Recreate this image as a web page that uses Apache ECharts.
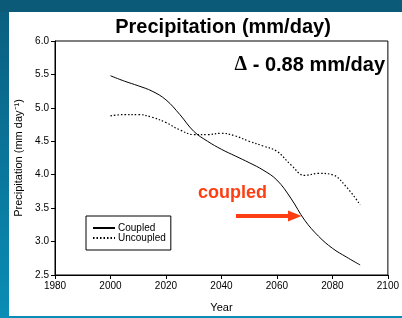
<!DOCTYPE html>
<html>
<head>
<meta charset="utf-8">
<script src="https://cdn.jsdelivr.net/npm/echarts@6/dist/echarts.min.js"></script>
<style>
  html, body { margin: 0; padding: 0; background: #0a5a78; }
  #chart { width: 402px; height: 318px; }
</style>
</head>
<body>
<div id="chart"></div>
<script>
// years of the model runs
const years = [2000, 2005, 2010, 2015, 2020, 2025, 2030, 2035, 2040, 2045, 2050, 2055, 2060, 2065, 2070, 2075, 2080, 2085, 2090];
// precipitation (mm/day)
const coupled = [5.48, 5.40, 5.33, 5.25, 5.12, 4.90, 4.65, 4.50, 4.38, 4.28, 4.18, 4.07, 3.92, 3.65, 3.32, 3.08, 2.90, 2.77, 2.65];
const uncoupled = [4.88, 4.90, 4.90, 4.86, 4.78, 4.67, 4.60, 4.60, 4.62, 4.58, 4.50, 4.43, 4.35, 4.15, 3.99, 4.02, 4.00, 3.82, 3.55];
const seriesNames = ['Coupled', 'Uncoupled'];

const toPairs = (vals) => years.map((y, i) => [y, vals[i]]);

const chart = echarts.init(document.getElementById('chart'));

const option = {
  backgroundColor: '#0a5a78',
  animation: false,
  textStyle: { fontFamily: 'Liberation Sans, Arial, sans-serif' },
  title: {
    text: 'Precipitation (mm/day)',
    left: 218,
    textAlign: 'center',
    top: 12,
    textStyle: { fontSize: 20, fontWeight: 'bold', color: '#000' }
  },
  graphic: [
    // white slide card
    { type: 'rect', z: -10, shape: { x: 9, y: 12, width: 393, height: 304 }, style: { fill: '#fff' } },
    // left strip gradient
    {
      type: 'rect', z: -10, shape: { x: 0, y: 12, width: 9, height: 306 },
      style: {
        fill: new echarts.graphic.LinearGradient(0, 0, 0, 1, [
          { offset: 0, color: '#0a5f80' },
          { offset: 1, color: '#0a8db6' }
        ])
      }
    },
    { type: 'rect', z: -10, shape: { x: 9, y: 316, width: 393, height: 2 }, style: { fill: '#0a8db6' } },
    // delta annotation
    {
      type: 'text', right: 17, top: 55,
      style: {
        text: '{d|Δ} - 0.88 mm/day',
        rich: {
          d: { fontFamily: 'Liberation Serif', fontWeight: 'bold', fontSize: 20, fill: '#000' }
        },
        font: 'bold 20px Liberation Sans',
        fill: '#000'
      }
    },
    // coupled label and arrow
    {
      type: 'text', left: 198, top: 184,
      style: { text: 'coupled', font: 'bold 18px Liberation Sans', fill: '#ff3d12' }
    },
    {
      type: 'polygon',
      shape: { points: [[236, 214], [288, 214], [288, 210.5], [301.5, 216], [288, 221.5], [288, 218], [236, 218]] },
      style: { fill: '#ff3d12' }
    }
  ],
  legend: {
    data: seriesNames,
    orient: 'vertical',
    left: 86,
    top: 216,
    padding: [7, 5, 7, 6],
    itemGap: 0,
    itemWidth: 22,
    itemHeight: 11,
    borderColor: '#000',
    borderWidth: 1,
    itemStyle: { opacity: 0 },
    textStyle: { fontSize: 10, color: '#000', padding: [0, 0, 0, -2] }
  },
  grid: {
    left: 55,
    right: 12,
    top: 41,
    bottom: 42,
    show: true,
    borderColor: '#000',
    borderWidth: 1
  },
  xAxis: {
    type: 'value',
    min: 1980,
    max: 2100,
    interval: 20,
    name: 'Year',
    nameLocation: 'middle',
    nameGap: 27,
    nameTextStyle: { fontSize: 11, color: '#000' },
    splitLine: { show: false },
    axisLine: { lineStyle: { color: '#000' } },
    axisTick: { length: 4, lineStyle: { color: '#000' } },
    axisLabel: { fontSize: 10, color: '#000', margin: 6, formatter: (v) => String(v) }
  },
  yAxis: {
    type: 'value',
    min: 2.5,
    max: 6.0,
    interval: 0.5,
    name: 'Precipitation (mm day⁻¹)',
    nameLocation: 'middle',
    nameGap: 29,
    nameTextStyle: { fontSize: 11, color: '#000' },
    splitLine: { show: false },
    axisLine: { show: true, lineStyle: { color: '#000' } },
    axisTick: { show: true, length: 4, lineStyle: { color: '#000' } },
    axisLabel: { fontSize: 10, color: '#000', margin: 6, formatter: (v) => v.toFixed(1) }
  },
  series: [
    {
      name: seriesNames[0],
      type: 'line',
      smooth: 0.4,
      symbol: 'none',
      data: toPairs(coupled),
      lineStyle: { color: '#000', width: 1 },
      itemStyle: { color: '#000' }
    },
    {
      name: seriesNames[1],
      type: 'line',
      smooth: 0.4,
      symbol: 'none',
      data: toPairs(uncoupled),
      lineStyle: { color: '#000', width: 1.2, type: [1.5, 2] },
      itemStyle: { color: '#000' }
    }
  ]
};

chart.setOption(option);
</script>
</body>
</html>
